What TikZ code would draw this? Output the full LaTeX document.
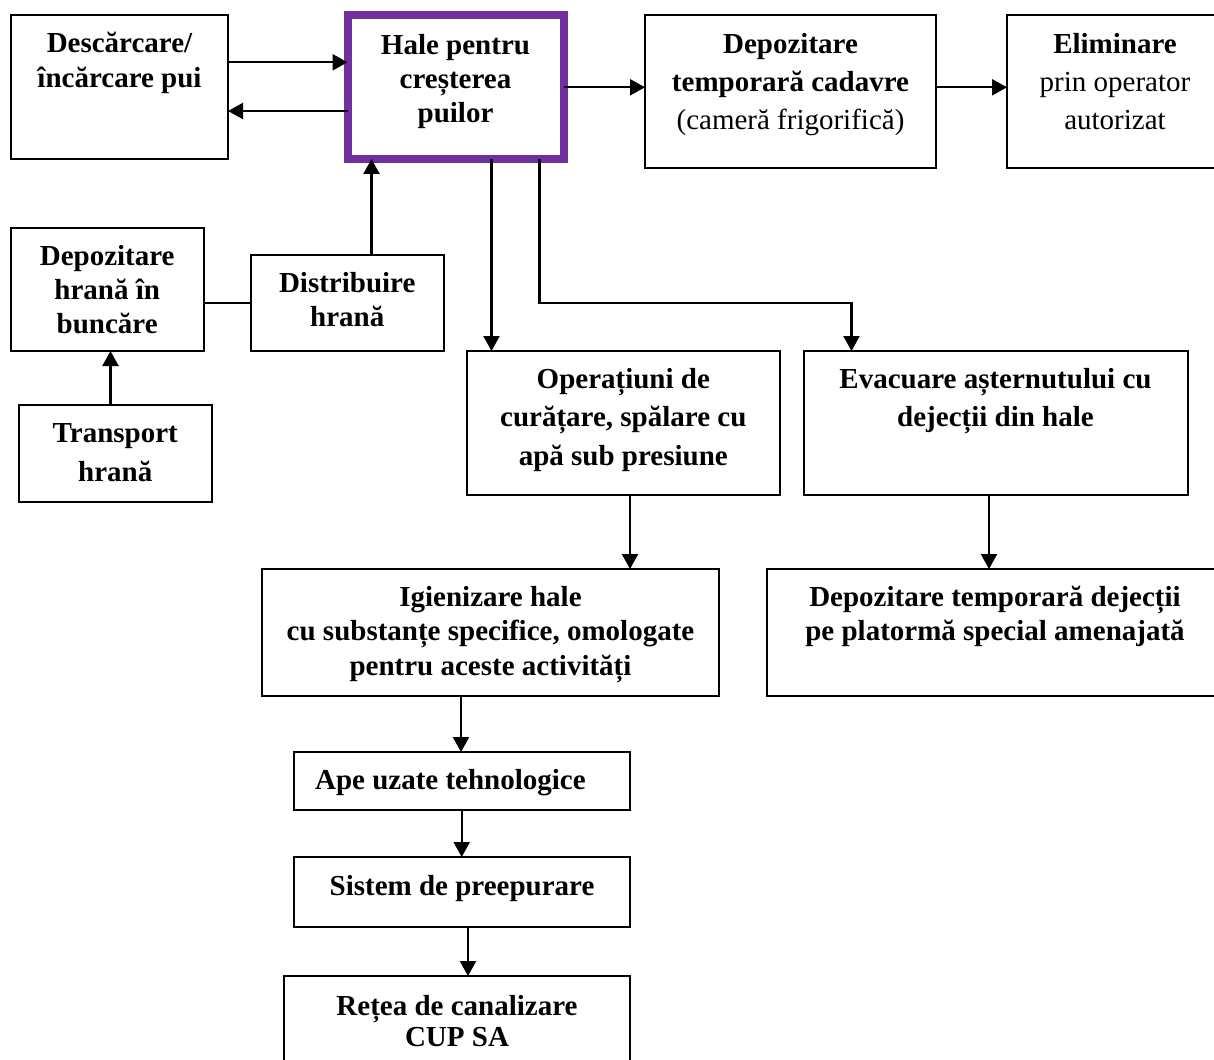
\documentclass[tikz,border=0pt]{standalone}
\usepackage{fontspec}
\setmainfont{Liberation Serif}
\usetikzlibrary{arrows.meta}
\definecolor{halepurple}{RGB}{112,48,160}
\newcommand\boxfont[1]{\fontsize{29}{#1}\selectfont\bfseries}
\newcommand\firstln{\rule{0pt}{24pt}}
\tikzset{
  box/.style={draw, line width=2pt, anchor=north west, inner sep=0pt, outer sep=0pt},
  txt/.style={inner sep=0pt, outer sep=0pt, anchor=north, align=center},
  arr/.style={line width=2.2pt, -{Triangle[length=15pt,width=16pt]}},
  ln/.style={line width=2.2pt}
}
\begin{document}
\begin{tikzpicture}[x=1pt,y=-1pt]
\useasboundingbox (0,0) rectangle (1214,1059);
\clip (0,0) rectangle (1214,1059);

\node[box, minimum width=217pt, minimum height=144pt] (desc) at (11,15) {};
\node[txt, font={\boxfont{34.6}}] (desct) at (119.5,28.7) {\firstln Descărcare/\\încărcare pui};

\node[box, draw=halepurple, line width=8pt, minimum width=216pt, minimum height=143.5pt] (hale) at (347.5,15.5) {};
\node[txt, font={\boxfont{33.8}}] (halet) at (455.5,31) {\firstln Hale pentru\\creșterea\\puilor};

\node[box, minimum width=291pt, minimum height=153pt] (dept) at (645,15) {};
\node[txt, font={\boxfont{38.3}}] (deptt) at (790.5,29.3) {\firstln Depozitare\\temporară cadavre\\{\mdseries (cameră frigorifică)}};

\node[box, minimum width=216pt, minimum height=153pt] (elim) at (1007,15) {};
\node[txt, font={\boxfont{38.3}}] (elimt) at (1115,29.3) {\firstln Eliminare\\{\mdseries prin operator}\\{\mdseries autorizat}};

\node[box, minimum width=192.5pt, minimum height=123pt] (dephr) at (11,228) {};
\node[txt, font={\boxfont{33.7}}] (dephrt) at (107.2,241.7) {\firstln Depozitare\\hrană în\\buncăre};

\node[box, minimum width=192.5pt, minimum height=96pt] (distr) at (251,255) {};
\node[txt, font={\boxfont{33.3}}] (distrt) at (347.2,268.7) {\firstln Distribuire\\hrană};

\node[box, minimum width=192.5pt, minimum height=96.5pt] (transp) at (19,405) {};
\node[txt, font={\boxfont{39}}] (transpt) at (115.3,418.7) {\firstln Transport\\hrană};

\node[box, minimum width=312.5pt, minimum height=144pt] (oper) at (467,351) {};
\node[txt, font={\boxfont{38.4}}] (opert) at (623.3,364.3) {\firstln Operațiuni de\\curățare, spălare cu\\apă sub presiune};

\node[box, minimum width=384.5pt, minimum height=144pt] (evac) at (803.5,351) {};
\node[txt, font={\boxfont{38.4}}] (evact) at (995.5,364.3) {\firstln Evacuare așternutului cu\\dejecții din hale};

\node[box, minimum width=457pt, minimum height=127pt] (igien) at (262,569) {};
\node[txt, font={\boxfont{34.2}}] (igient) at (490.5,582.7) {\firstln Igienizare hale\\cu substanțe specifice, omologate\\pentru aceste activități};

\node[box, minimum width=456pt, minimum height=127pt] (dejec) at (767,569) {};
\node[txt, font={\boxfont{34.5}}] (deject) at (995,582) {\firstln Depozitare temporară dejecții\\pe platormă special amenajată};

\node[box, minimum width=336.5pt, minimum height=58pt] (ape) at (293.5,752) {};
\node[txt, font={\boxfont{34}}] (apet) at (450.4,765.3) {\firstln Ape uzate tehnologice};

\node[box, minimum width=336.5pt, minimum height=70pt] (sist) at (293.5,857) {};
\node[txt, font={\boxfont{34}}] (sistt) at (462,871) {\firstln Sistem de preepurare};

\node[box, minimum width=346.5pt, minimum height=100pt] (retea) at (283.5,976) {};
\node[txt, font={\boxfont{31.7}}] (reteat) at (457,991) {\firstln Rețea de canalizare\\CUP SA};

\coordinate (elbow) at (851.5,302.7);

\draw[arr] (desc.east |- 0,62.3) -- (hale.west |- 0,62.3);
\draw[arr] (hale.west |- 0,111) -- (desc.east |- 0,111);
\draw[arr] (hale.east |- 0,87.3) -- (dept.west |- 0,87.3);
\draw[arr] (dept.east |- 0,87.3) -- (elim.west |- 0,87.3);
\draw[arr] (distr.north -| 371.5,0) -- (hale.south -| 371.5,0);
\draw[ln] (dephr.east |- 0,303) -- (distr.west |- 0,303);
\draw[arr] (transp.north -| 110.5,0) -- (dephr.south -| 110.5,0);
\draw[arr] (hale.south -| 491.5,0) -- (oper.north -| 491.5,0);
\draw[arr] (hale.south -| 539.5,0) |- (elbow) -- (evac.north -| elbow);
\draw[arr] (oper.south -| 630,0) -- (igien.north -| 630,0);
\draw[arr] (evac.south -| 989,0) -- (dejec.north -| 989,0);
\draw[arr] (igien.south -| 461,0) -- (ape.north -| 461,0);
\draw[arr] (ape.south -| 461.7,0) -- (sist.north -| 461.7,0);
\draw[arr] (sist.south -| 468,0) -- (retea.north -| 468,0);
\end{tikzpicture}
\end{document}
